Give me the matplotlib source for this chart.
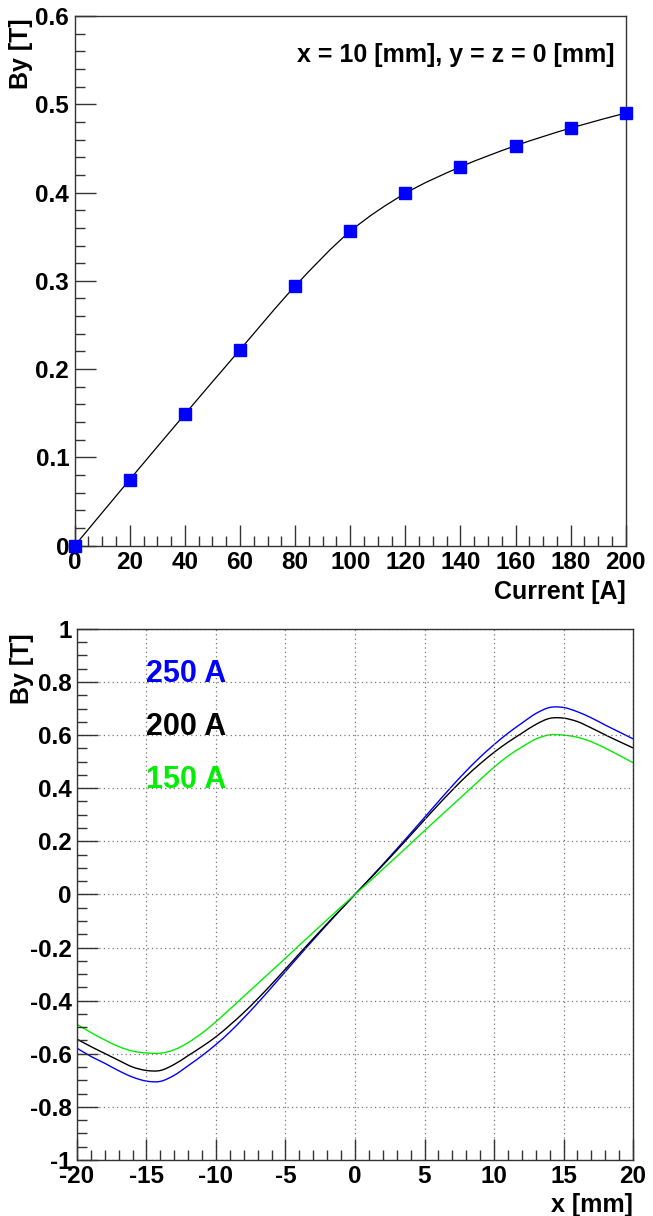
import numpy as np
import matplotlib
matplotlib.use("Agg")
import matplotlib.pyplot as plt
from matplotlib.path import Path
from matplotlib.patches import PathPatch
from matplotlib.ticker import MultipleLocator

plt.rcParams['font.family'] = ['Liberation Sans', 'DejaVu Sans']
plt.rcParams['font.weight'] = 'bold'

# top panel: By at x = 10 mm vs current
current = [0, 20, 40, 60, 80, 100, 120, 140, 160, 180, 200]
by_current = [0.0, 0.075, 0.149, 0.222, 0.294, 0.356, 0.399, 0.429, 0.453, 0.473, 0.490]

# bottom panel: By along x for three currents
x_mm = list(range(-20, 21))
by_250 = [-0.579, -0.610, -0.636, -0.664, -0.688, -0.703, -0.704, -0.681, -0.645, -0.607, -0.565,
          -0.518, -0.465, -0.409, -0.350, -0.290, -0.230, -0.171, -0.113, -0.056,
          0.0,
          0.056, 0.113, 0.171, 0.230, 0.290, 0.350, 0.409, 0.465, 0.517, 0.564,
          0.607, 0.645, 0.681, 0.704, 0.704, 0.688, 0.665, 0.638, 0.612, 0.586]
by_200 = [-0.545, -0.573, -0.599, -0.625, -0.650, -0.663, -0.663, -0.640, -0.607, -0.573, -0.536,
          -0.492, -0.445, -0.393, -0.338, -0.281, -0.223, -0.166, -0.110, -0.055,
          0.0,
          0.055, 0.110, 0.166, 0.223, 0.281, 0.338, 0.393, 0.445, 0.492, 0.535,
          0.573, 0.607, 0.640, 0.663, 0.664, 0.651, 0.627, 0.601, 0.576, 0.552]
by_150 = [-0.489, -0.520, -0.548, -0.573, -0.590, -0.597, -0.598, -0.585, -0.558, -0.522, -0.479,
          -0.432, -0.384, -0.336, -0.288, -0.240, -0.191, -0.143, -0.095, -0.047,
          0.0,
          0.047, 0.095, 0.143, 0.191, 0.240, 0.288, 0.336, 0.384, 0.432, 0.479,
          0.521, 0.555, 0.585, 0.601, 0.600, 0.592, 0.575, 0.551, 0.524, 0.496]

labels = ['250 A', '200 A', '150 A']
colors = ['#0000ff', '#000000', '#00ee00']


def smooth_curve(xs, ys):
    # catmull-rom through the points, as bezier segments
    pts = np.column_stack([xs, ys]).astype(float)
    n = len(pts)
    verts = [pts[0]]
    codes = [Path.MOVETO]
    for i in range(n - 1):
        p0 = pts[max(i - 1, 0)]
        p1 = pts[i]
        p2 = pts[i + 1]
        p3 = pts[min(i + 2, n - 1)]
        verts += [p1 + (p2 - p0) / 6.0, p2 - (p3 - p1) / 6.0, p2]
        codes += [Path.CURVE4] * 3
    return Path(verts, codes)


def style_axes(ax):
    for s in ax.spines.values():
        s.set_linewidth(1.0)
        s.set_color('#333333')
    ax.tick_params(which='both', direction='in', top=False, right=False,
                   labelsize=17.5, width=1.0, color='#333333')
    ax.tick_params(which='major', length=15, pad=4)
    ax.tick_params(which='minor', length=7.5)
    for lab in ax.get_xticklabels() + ax.get_yticklabels():
        lab.set_fontweight('bold')


fig = plt.figure(figsize=(6.53, 12.16), dpi=100)

# ---- top panel
ax1 = fig.add_axes([0.1144, 0.5512, 0.8438, 0.4357])
ax1.add_patch(PathPatch(smooth_curve(current, by_current), facecolor='none',
                        edgecolor='black', lw=0.9))
ax1.plot(current, by_current, 's', color='#0000ff', markersize=8.5, ls='none',
         clip_on=False, zorder=5)
ax1.set_xlim(0, 200)
ax1.set_ylim(0, 0.6)
ax1.xaxis.set_major_locator(MultipleLocator(20))
ax1.xaxis.set_minor_locator(MultipleLocator(5))
ax1.yaxis.set_major_locator(MultipleLocator(0.1))
ax1.yaxis.set_minor_locator(MultipleLocator(0.02))
ax1.set_xticks(current)
ax1.set_xticklabels([str(c) for c in current])
ax1.set_yticks([0, 0.1, 0.2, 0.3, 0.4, 0.5, 0.6])
ax1.set_yticklabels(['0', '0.1', '0.2', '0.3', '0.4', '0.5', '0.6'])
style_axes(ax1)
ax1.text(-0.097, 0.996, 'By [T]', rotation=90, ha='center', va='top',
         fontsize=18, fontweight='bold', transform=ax1.transAxes)
ax1.text(1.0, -0.065, 'Current [A]', ha='right', va='top',
         fontsize=18, fontweight='bold', transform=ax1.transAxes)
ax1.text(196, 0.548, 'x = 10 [mm], y = z = 0 [mm]', ha='right', va='baseline',
         fontsize=18, fontweight='bold')

# ---- bottom panel
ax2 = fig.add_axes([0.1179, 0.0461, 0.8515, 0.4367])
for ys, c in zip([by_250, by_200, by_150], colors):
    ax2.add_patch(PathPatch(smooth_curve(x_mm, ys), facecolor='none',
                            edgecolor=c, lw=1.0))
ax2.set_xlim(-20, 20)
ax2.set_ylim(-1, 1)
ax2.xaxis.set_major_locator(MultipleLocator(5))
ax2.xaxis.set_minor_locator(MultipleLocator(1))
ax2.yaxis.set_major_locator(MultipleLocator(0.2))
ax2.yaxis.set_minor_locator(MultipleLocator(0.05))
yt = [-1, -0.8, -0.6, -0.4, -0.2, 0, 0.2, 0.4, 0.6, 0.8, 1]
ax2.set_yticks(yt)
ax2.set_yticklabels(['-1', '-0.8', '-0.6', '-0.4', '-0.2', '0', '0.2', '0.4', '0.6', '0.8', '1'])
xt = [-20, -15, -10, -5, 0, 5, 10, 15, 20]
ax2.set_xticks(xt)
ax2.set_xticklabels([str(v) for v in xt])
ax2.grid(True, which='major', ls=(0, (1, 2.5)), color='#777777', lw=0.9)
style_axes(ax2)
ax2.text(-0.099, 0.991, 'By [T]', rotation=90, ha='center', va='top',
         fontsize=18, fontweight='bold', transform=ax2.transAxes)
ax2.text(1.0, -0.062, 'x [mm]', ha='right', va='top',
         fontsize=18, fontweight='bold', transform=ax2.transAxes)
for lab, c, yv in zip(labels, colors, [0.8, 0.6, 0.4]):
    ax2.text(-15, yv, lab, color=c, fontsize=22, fontweight='bold',
             ha='left', va='baseline')

fig.savefig('out.png', dpi=100)
